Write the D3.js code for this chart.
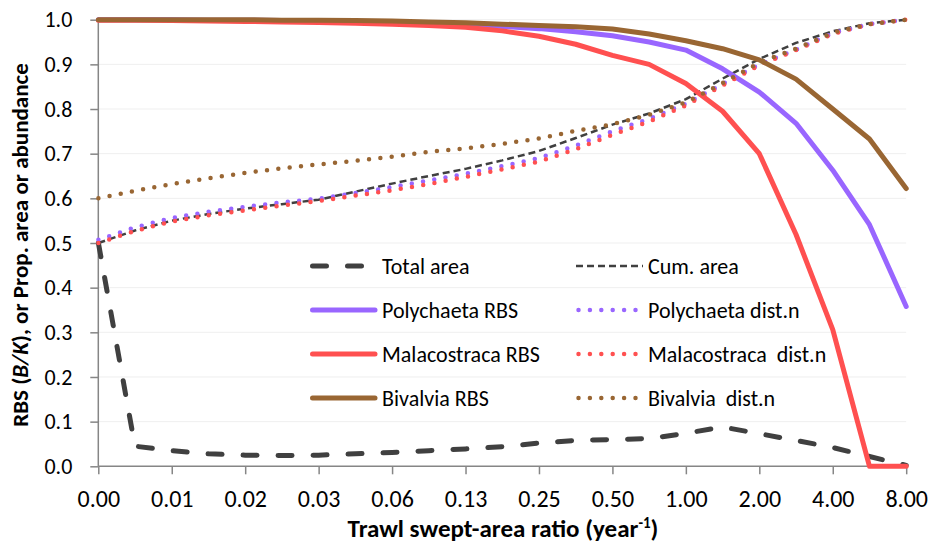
<!DOCTYPE html>
<html>
<head>
<meta charset="utf-8">
<script src="https://cdn.jsdelivr.net/npm/d3@7"></script>
<style>
  body { margin: 0; background: #fff; }
  svg { display: block; font-family: Carlito, Calibri, Lato, sans-serif; }
</style>
</head>
<body>
<svg id="chart" width="934" height="545"></svg>
<script>
// swept-area ratio at each point (half steps on a log2 axis)
const ratio = [0.00391, 0.00552, 0.00781, 0.01105, 0.01563, 0.0221, 0.03125, 0.04419,
  0.0625, 0.08839, 0.125, 0.17678, 0.25, 0.35355, 0.5, 0.70711, 1, 1.41421, 2,
  2.82843, 4, 5.65685, 8];

const xTickValues = [0.00390625, 0.0078125, 0.015625, 0.03125, 0.0625, 0.125, 0.25, 0.5, 1, 2, 4, 8];
const xTickLabels = ['0.00', '0.01', '0.02', '0.03', '0.06', '0.13', '0.25', '0.50', '1.00', '2.00', '4.00', '8.00'];
const yTickValues = [0, 0.1, 0.2, 0.3, 0.4, 0.5, 0.6, 0.7, 0.8, 0.9, 1.0];
const yTickLabels = ['0.0', '0.1', '0.2', '0.3', '0.4', '0.5', '0.6', '0.7', '0.8', '0.9', '1.0'];

const totalArea = [0.5, 0.045, 0.035, 0.028, 0.025, 0.024, 0.025, 0.028, 0.031, 0.035, 0.039,
  0.044, 0.052, 0.058, 0.06, 0.062, 0.074, 0.088, 0.073, 0.058, 0.042, 0.022, 0.002];
const cumArea = [0.5, 0.528, 0.55, 0.565, 0.577, 0.587, 0.597, 0.615, 0.633, 0.65, 0.666,
  0.685, 0.706, 0.735, 0.765, 0.79, 0.822, 0.868, 0.912, 0.948, 0.974, 0.992, 1.0];
const polyRBS = [1.0, 1.0, 1.0, 0.999, 0.999, 0.998, 0.997, 0.995, 0.993, 0.991, 0.989,
  0.985, 0.98, 0.973, 0.964, 0.95, 0.932, 0.89, 0.838, 0.768, 0.663, 0.541, 0.358];
const polyDist = [0.507, 0.535, 0.556, 0.57, 0.581, 0.591, 0.599, 0.612, 0.625, 0.64, 0.655,
  0.672, 0.69, 0.718, 0.75, 0.778, 0.812, 0.856, 0.9, 0.933, 0.97, 0.99, 1.0];
const malaRBS = [0.999, 0.999, 0.998, 0.997, 0.996, 0.995, 0.994, 0.992, 0.99, 0.987, 0.983,
  0.975, 0.963, 0.945, 0.92, 0.9, 0.857, 0.795, 0.7, 0.519, 0.306, 0.0, 0.0];
const malaDist = [0.5, 0.527, 0.548, 0.562, 0.573, 0.584, 0.594, 0.606, 0.618, 0.632, 0.648,
  0.665, 0.682, 0.71, 0.742, 0.772, 0.808, 0.853, 0.898, 0.932, 0.968, 0.99, 1.0];
const bivRBS = [1.0, 1.0, 1.0, 1.0, 1.0, 0.999, 0.999, 0.998, 0.997, 0.995, 0.993,
  0.99, 0.987, 0.984, 0.979, 0.968, 0.953, 0.935, 0.91, 0.867, 0.8, 0.733, 0.622];
const bivDist = [0.6, 0.617, 0.632, 0.645, 0.657, 0.667, 0.676, 0.684, 0.693, 0.704, 0.712,
  0.722, 0.734, 0.751, 0.766, 0.787, 0.815, 0.858, 0.904, 0.935, 0.971, 0.99, 1.0];

const grey = '#404040', purple = '#9966ff', red = '#ff5050', brown = '#996633';

// line styles
const longDash = { width: 5, dash: '14,21', cap: 'round' };
const shortDash = { width: 2.5, dash: '7,4', cap: 'butt' };
const solid = { width: 5, dash: null, cap: 'round' };
const dots = { width: 4.5, dash: '0,11.4', cap: 'round' };

const series = [
  { name: 'Total area', values: totalArea, color: grey, style: longDash, col: 0, row: 0 },
  { name: 'Cum. area', values: cumArea, color: grey, style: shortDash, col: 1, row: 0 },
  { name: 'Polychaeta RBS', values: polyRBS, color: purple, style: solid, col: 0, row: 1 },
  { name: 'Polychaeta dist.n', values: polyDist, color: purple, style: dots, col: 1, row: 1 },
  { name: 'Malacostraca RBS', values: malaRBS, color: red, style: solid, col: 0, row: 2 },
  { name: 'Malacostraca  dist.n', values: malaDist, color: red, style: dots, col: 1, row: 2 },
  { name: 'Bivalvia RBS', values: bivRBS, color: brown, style: solid, col: 0, row: 3 },
  { name: 'Bivalvia  dist.n', values: bivDist, color: brown, style: dots, col: 1, row: 3 }
];

const svg = d3.select('#chart');
const plotL = 98.3, plotR = 906.2, plotT = 19.7, plotB = 466.3;

const x = d3.scaleLog().base(2).domain([0.00390625, 8]).range([plotL, plotR]);
const y = d3.scaleLinear().domain([0, 1]).range([plotB, plotT]);

// gridlines
svg.append('g')
  .selectAll('line')
  .data(yTickValues.slice(1))
  .join('line')
  .attr('x1', plotL).attr('x2', plotR)
  .attr('y1', d => y(d)).attr('y2', d => y(d))
  .attr('stroke', '#efefef').attr('stroke-width', 1);

// y axis
const yAxis = d3.axisLeft(y)
  .tickValues(yTickValues)
  .tickFormat((d, i) => yTickLabels[i])
  .tickSize(8).tickPadding(18);
const gy = svg.append('g').attr('transform', `translate(${plotL},0)`).call(yAxis);

// x axis
const xAxis = d3.axisBottom(x)
  .tickValues(xTickValues)
  .tickFormat((d, i) => xTickLabels[i])
  .tickSize(8).tickPadding(16);
const gx = svg.append('g').attr('transform', `translate(0,${plotB})`).call(xAxis);

[gx, gy].forEach(g => {
  g.select('.domain').attr('stroke', '#868686').attr('stroke-width', 1.5);
  g.selectAll('.tick line').attr('stroke', '#868686').attr('stroke-width', 1.5);
  g.selectAll('.tick text').attr('fill', '#000')
    .style('font-family', 'Carlito, Calibri, Lato, sans-serif');
});
gy.selectAll('.tick text').style('font-size', '22px');
gx.selectAll('.tick text').style('font-size', '24px');
gx.select('.domain').attr('d', `M${plotL},0H${plotR}`);
gy.select('.domain').attr('d', `M0,${plotB}V${plotT}`);

// series lines
const line = d3.line().x((d, i) => x(ratio[i])).y(d => y(d));
svg.append('g')
  .selectAll('path')
  .data(series)
  .join('path')
  .attr('d', d => line(d.values))
  .attr('fill', 'none')
  .attr('stroke', d => d.color)
  .attr('stroke-width', d => d.style.width)
  .attr('stroke-dasharray', d => d.style.dash)
  .attr('stroke-linecap', d => d.style.cap)
  .attr('stroke-linejoin', 'round');

// legend
const legX = [310, 576], legLen = 67, rowY = [266, 310, 354, 398];
const leg = svg.append('g')
  .selectAll('g')
  .data(series)
  .join('g')
  .attr('transform', d => `translate(${legX[d.col]},${rowY[d.row]})`);
leg.append('path')
  .attr('d', d => d.style.cap === 'round' ? `M2.5,0H${legLen - 2}` : `M0,0H${legLen}`)
  .attr('stroke', d => d.color)
  .attr('stroke-width', d => d.style.width)
  .attr('stroke-dasharray', d => d.style.dash)
  .attr('stroke-linecap', d => d.style.cap);
leg.append('text')
  .attr('x', legLen + 5)
  .attr('dy', '0.35em')
  .style('font-size', '22px')
  .style('white-space', 'pre')
  .attr('fill', '#000')
  .text(d => d.name);

// axis titles
const yTitle = svg.append('text')
  .attr('transform', 'translate(28,245) rotate(-90)')
  .attr('text-anchor', 'middle')
  .style('font-size', '23px').style('font-weight', 'bold');
yTitle.append('tspan').text('RBS (');
yTitle.append('tspan').style('font-style', 'italic').text('B/K');
yTitle.append('tspan').text('), or Prop. area or abundance');

const xTitle = svg.append('text')
  .attr('x', 503)
  .attr('y', 537)
  .attr('text-anchor', 'middle')
  .style('font-size', '25px').style('font-weight', 'bold');
xTitle.append('tspan').text('Trawl swept-area ratio (year');
xTitle.append('tspan').attr('dy', -9).style('font-size', '15px').text('-1');
xTitle.append('tspan').attr('dy', 9).text(')');
</script>
</body>
</html>
